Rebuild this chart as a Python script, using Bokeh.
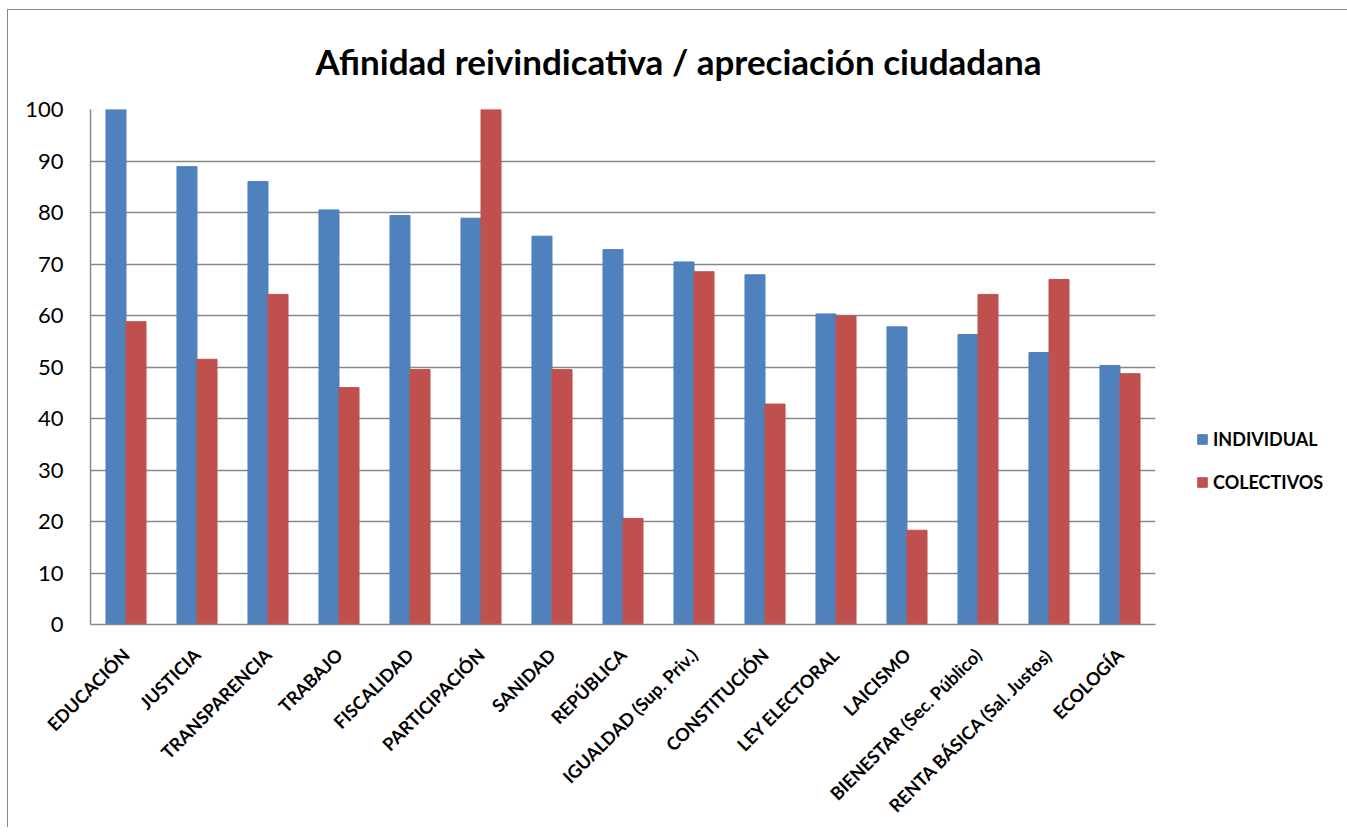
import math
from bokeh.plotting import figure
from bokeh.models import FactorRange, Legend, LegendItem, Title, ColumnDataSource, FixedTicker
from bokeh.transform import dodge
from bokeh.embed import file_html
from bokeh.resources import INLINE

categories = ["EDUCACIÓN", "JUSTICIA", "TRANSPARENCIA", "TRABAJO", "FISCALIDAD",
              "PARTICIPACIÓN", "SANIDAD", "REPÚBLICA", "IGUALDAD (Sup. Priv.)",
              "CONSTITUCIÓN", "LEY ELECTORAL", "LAICISMO", "BIENESTAR (Sec. Público)",
              "RENTA BÁSICA (Sal. Justos)", "ECOLOGÍA"]
individual = [100, 88.9, 86.0, 80.5, 79.4, 78.9, 75.4, 72.8, 70.4, 67.9, 60.3, 57.8, 56.3, 52.8, 50.3]
colectivos = [58.8, 51.5, 64.1, 46.0, 49.5, 100, 49.5, 20.6, 68.5, 42.8, 59.9, 18.3, 64.1, 67.0, 48.7]
y_ticks = [0, 10, 20, 30, 40, 50, 60, 70, 80, 90, 100]

FONT = "Lato"
src = ColumnDataSource(dict(cat=categories, ind=individual, col=colectivos))

p = figure(x_range=FactorRange(*categories), y_range=(0, 100),
           frame_width=1065, frame_height=515, output_backend="svg", toolbar_location=None,
           min_border_left=82, min_border_right=183, min_border_top=99, min_border_bottom=200)
p.styles = {"margin-left": "7px", "margin-top": "9px",
            "border-left": "1px solid #868686", "border-top": "1px solid #868686"}
p.x_range.range_padding = 0
p.outline_line_color = None
p.background_fill_color = "white"
p.border_fill_color = "white"

r1 = p.vbar(x=dodge("cat", -0.141, range=p.x_range), top="ind", width=0.282, source=src,
            fill_color="#4F81BD", line_color="#4F81BD")
r2 = p.vbar(x=dodge("cat", 0.141, range=p.x_range), top="col", width=0.282, source=src,
            fill_color="#C0504D", line_color="#C0504D")

p.xgrid.grid_line_color = None
p.ygrid.grid_line_color = "#878787"
p.ygrid.grid_line_width = 1.5
p.yaxis.ticker = FixedTicker(ticks=y_ticks)

p.yaxis.axis_line_color = "#878787"
p.yaxis.axis_line_width = 1.5
p.yaxis.major_tick_line_color = None
p.yaxis.minor_tick_line_color = None
p.yaxis.major_tick_out = 0
p.yaxis.major_tick_in = 0
p.yaxis.major_label_standoff = 27
p.yaxis.major_label_text_font = FONT
p.yaxis.major_label_text_font_size = "22px"
p.yaxis.major_label_text_color = "black"

p.xaxis.axis_line_color = "#878787"
p.xaxis.axis_line_width = 1.5
p.xaxis.major_tick_line_color = None
p.xaxis.minor_tick_line_color = None
p.xaxis.major_tick_out = 0
p.xaxis.major_tick_in = 0
p.xaxis.major_label_orientation = math.pi / 4
p.xaxis.major_label_standoff = 27
p.xaxis.major_label_text_font = FONT
p.xaxis.major_label_text_font_style = "bold"
p.xaxis.major_label_text_font_size = "18px"
p.xaxis.major_label_text_color = "black"

p.add_layout(Title(text="Afinidad reivindicativa / apreciación ciudadana", align="left",
                   offset=225, text_font=FONT, text_font_size="35px", text_font_style="bold",
                   text_color="black", standoff=55), "above")

legend = Legend(items=[LegendItem(label="INDIVIDUAL", renderers=[r1]),
                       LegendItem(label="COLECTIVOS", renderers=[r2])],
                location=(41, 131), orientation="vertical")
legend.border_line_color = None
legend.background_fill_alpha = 0
legend.margin = 0
legend.padding = 0
legend.glyph_width = 12
legend.glyph_height = 12
legend.label_standoff = 5
legend.label_height = 20
legend.spacing = 21
legend.label_text_font = FONT
legend.label_text_font_style = "bold"
legend.label_text_font_size = "18px"
legend.label_text_color = "black"
p.add_layout(legend, "right")

open("out.html", "w").write(file_html(p, INLINE))
